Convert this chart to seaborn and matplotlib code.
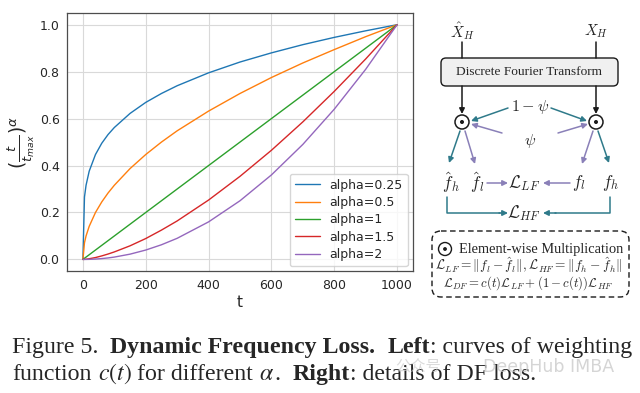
import pandas as pd
import seaborn as sns
import matplotlib.pyplot as plt
from matplotlib.patches import FancyBboxPatch, Circle

# values
t_vals = [0, 5, 10, 20, 40, 60, 80, 100, 150, 200, 250, 300, 400, 500, 600, 700, 800, 900, 1000]
w_a025 = [0, 0.266, 0.316, 0.376, 0.447, 0.495, 0.532, 0.562, 0.622, 0.669, 0.707, 0.740, 0.795, 0.841, 0.880, 0.915, 0.946, 0.974, 1.0]
w_a05 = [0, 0.071, 0.100, 0.141, 0.200, 0.245, 0.283, 0.316, 0.387, 0.447, 0.500, 0.548, 0.632, 0.707, 0.775, 0.837, 0.894, 0.949, 1.0]
w_a1 = [0, 0.005, 0.010, 0.020, 0.040, 0.060, 0.080, 0.100, 0.150, 0.200, 0.250, 0.300, 0.400, 0.500, 0.600, 0.700, 0.800, 0.900, 1.0]
w_a15 = [0, 0.0004, 0.001, 0.003, 0.008, 0.015, 0.023, 0.032, 0.058, 0.089, 0.125, 0.164, 0.253, 0.354, 0.465, 0.586, 0.716, 0.854, 1.0]
w_a2 = [0, 0.0, 0.0001, 0.0004, 0.0016, 0.0036, 0.0064, 0.010, 0.0225, 0.040, 0.0625, 0.090, 0.160, 0.250, 0.360, 0.490, 0.640, 0.810, 1.0]
curve_names = ['alpha=0.25', 'alpha=0.5', 'alpha=1', 'alpha=1.5', 'alpha=2']
x_ticks = [0, 200, 400, 600, 800, 1000]
y_ticks = [0.0, 0.2, 0.4, 0.6, 0.8, 1.0]

rows = []
for name, ws in zip(curve_names, [w_a025, w_a05, w_a1, w_a15, w_a2]):
    for t, w in zip(t_vals, ws):
        rows.append({'t': t, 'w': w, 'curve': name})
df = pd.DataFrame(rows)

sns.set_theme(style="whitegrid")
plt.rcParams['font.family'] = ['DejaVu Sans', 'Noto Sans CJK SC']

fig = plt.figure(figsize=(6.4, 3.93), dpi=100)
ax = fig.add_axes([0.105, 0.31, 0.54, 0.657])
sns.lineplot(data=df, x='t', y='w', hue='curve', palette='tab10', linewidth=1.0, ax=ax)
ax.set_xlim(-50, 1050)
ax.set_ylim(-0.05, 1.05)
ax.set_xticks(x_ticks)
ax.set_yticks(y_ticks)
ax.set_xlabel('t', fontsize=11, labelpad=2)
ax.set_ylabel(r'$(\frac{t}{t_{max}})^{\alpha}$', fontsize=13.5, labelpad=2)
ax.tick_params(labelsize=9, length=3.5, width=0.8, color='0.25', pad=2)
ax.grid(color='0.85', linewidth=0.8)
for s in ax.spines.values():
    s.set_color('0.3')
    s.set_linewidth(0.9)
sns.move_legend(ax, 'lower right', title=None, fontsize=9, labelspacing=0.35,
                borderaxespad=0.4, frameon=True)

# right-hand diagram, drawn in pixel coordinates
dg = fig.add_axes([0, 0, 1, 1])
dg.set_xlim(0, 640)
dg.set_ylim(393, 0)
dg.axis('off')
dg.patch.set_alpha(0)

teal = '#2f7a8a'
purple = '#8a80b8'
serif = 'Liberation Serif'


def arrow(p0, p1, c, lw=1.1):
    dg.annotate('', xy=p1, xytext=p0,
                arrowprops=dict(arrowstyle='-|>', color=c, lw=lw, shrinkA=0, shrinkB=0,
                                mutation_scale=8))


def mtxt(x, y, s, size=11, **kw):
    dg.text(x, y, s, fontsize=size, ha='center', va='center', math_fontfamily='cm', **kw)


mtxt(462, 31, r'$\hat{X}_H$', 11)
mtxt(596, 31, r'$X_H$', 11)
dg.plot([462, 462], [42, 58], color='k', lw=1.1)
dg.plot([596, 596], [42, 58], color='k', lw=1.1)
dg.add_patch(FancyBboxPatch((441, 58), 177, 28, boxstyle='round,pad=0,rounding_size=5',
                            fc='#f0f0f0', ec='k', lw=1.0))
dg.text(529.5, 72, 'Discrete Fourier Transform', fontsize=9.6, family=serif,
        ha='center', va='center')
arrow((462, 86), (462, 114), 'k')
arrow((596, 86), (596, 114), 'k')
for cx in (462, 596):
    dg.add_patch(Circle((cx, 122), 7, fc='white', ec='k', lw=1.1))
    dg.add_patch(Circle((cx, 122), 1.3, fc='k', ec='k'))

mtxt(530, 107, r'$1-\psi$', 11.5)
mtxt(530, 141, r'$\psi$', 11.5)
arrow((508, 108), (471, 121), teal)
arrow((551, 108), (587, 121), teal)
arrow((502, 133), (471, 124), purple)
arrow((558, 133), (588, 124), purple)

arrow((460, 131), (449, 163), teal)
arrow((465, 131), (475, 164), purple)
arrow((593, 131), (582, 164), purple)
arrow((598, 131), (609, 163), teal)

mtxt(451, 183, r'$\hat{f}_h$', 12.5)
mtxt(477, 183, r'$\hat{f}_l$', 12.5)
mtxt(524, 183, r'$\mathcal{L}_{LF}$', 12.5)
mtxt(579, 183, r'$f_l$', 12.5)
mtxt(611, 183, r'$f_h$', 12.5)
arrow((487, 183), (508, 183), purple)
arrow((570, 183), (543, 183), purple)

mtxt(524, 213, r'$\mathcal{L}_{HF}$', 12.5)
dg.plot([447, 447, 500], [197, 213, 213], color=teal, lw=1.1)
arrow((499, 213), (508, 213), teal)
dg.plot([610, 610, 555], [197, 213, 213], color=teal, lw=1.1)
arrow((556, 213), (543, 213), teal)

dg.add_patch(FancyBboxPatch((432, 231), 197, 66, boxstyle='round,pad=0,rounding_size=9',
                            fc='none', ec='k', lw=1.0, ls=(0, (4, 2.5))))
dg.add_patch(Circle((445, 249), 6.5, fc='white', ec='k', lw=1.0))
dg.add_patch(Circle((445, 249), 1.2, fc='k', ec='k'))
dg.text(459, 249, 'Element-wise Multiplication', fontsize=10.4, family=serif,
        ha='left', va='center')
mtxt(529, 265, r'$\mathcal{L}_{LF}=\Vert f_l-\hat{f}_l\Vert,\mathcal{L}_{HF}=\Vert f_h-\hat{f}_h\Vert$', 9.6)
mtxt(528, 283, r'$\mathcal{L}_{DF}=c(t)\mathcal{L}_{LF}+(1-c(t))\mathcal{L}_{HF}$', 9.2)

# caption
renderer = fig.canvas.get_renderer()


def width_of(s, size, kind):
    kw = dict(fontsize=size, family=serif)
    if kind == 'b':
        kw['weight'] = 'bold'
    if kind == 'm':
        kw['math_fontfamily'] = 'stix'
    t = fig.text(0, 0, s, **kw)
    w = t.get_window_extent(renderer).width
    t.remove()
    return w, kw


line1 = [('Figure 5.', 'n', 0), ('Dynamic Frequency Loss.', 'b', 2), ('Left', 'b', 2),
         (': curves of weighting', 'n', 0)]
line2 = [('function', 'n', 0), ('$c(t)$', 'm', 1), ('for different', 'n', 1), (r'$\alpha$', 'm', 1),
         ('.', 'n', 0), ('Right', 'b', 2), (': details of DF loss.', 'n', 0)]


def line_width(runs, size):
    sp = width_of('x x', size, 'n')[0] - width_of('xx', size, 'n')[0]
    return sum(width_of(s, size, k)[0] + n * sp for s, k, n in runs)


cap_size = 14 * 622 / line_width(line1, 14)


def draw_line(runs, x, y, size):
    sp = width_of('x x', size, 'n')[0] - width_of('xx', size, 'n')[0]
    for s, k, n in runs:
        x += n * sp
        w, kw = width_of(s, size, k)
        dg.text(x, y, s, va='baseline', ha='left', **kw)
        x += w


draw_line(line1, 12, 353, cap_size)
draw_line(line2, 12, 380, cap_size)

# faint watermark, as in the reference
dg.text(395, 367, '公众号', fontsize=11, color='0.8', alpha=0.7, ha='left', va='center',
        family=['Noto Sans CJK SC', 'DejaVu Sans'])
dg.text(483, 367, 'DeepHub IMBA', fontsize=12.5, color='0.78', alpha=0.75, ha='left', va='center')

fig.savefig('out.png', dpi=100)
